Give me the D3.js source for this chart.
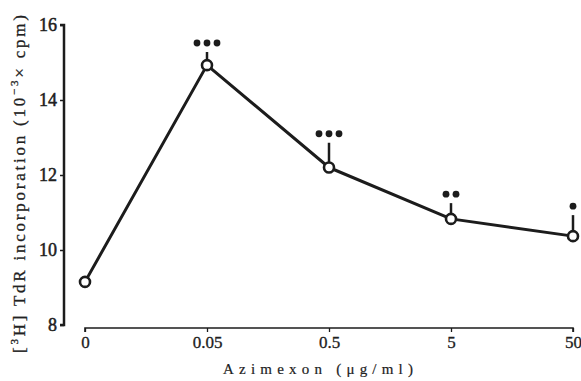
<!DOCTYPE html>
<html>
<head>
<meta charset="utf-8">
<script src="https://cdn.jsdelivr.net/npm/d3@7"></script>
<style>
  body { margin: 0; background: #fff; }
  svg { display: block; }
  text { font-family: "Liberation Serif", "DejaVu Serif", serif; fill: #222; }
</style>
</head>
<body>
<svg id="chart" width="581" height="381"></svg>
<script>
// dose of azimexon (ug/ml), plotted as evenly spaced categories
const doses = ['0', '0.05', '0.5', '5', '50'];
const means = [9.15, 14.93, 12.2, 10.83, 10.37];
const sems = [0.1, 0.35, 0.66, 0.42, 0.56];
const starCounts = [0, 3, 3, 2, 1];
const yTicks = [8, 10, 12, 14, 16];

const svg = d3.select('#chart');
const ink = '#1c1c1c';

const x = d3.scalePoint().domain(doses).range([85, 573]);
const y = d3.scaleLinear().domain([8, 16]).range([325, 25]);

// y axis
const yAxis = svg.append('g').attr('transform', 'translate(64,0)')
    .call(d3.axisLeft(y).tickValues(yTicks).tickSize(4).tickPadding(3).tickFormat(d3.format('d')));
yAxis.select('.domain').attr('stroke', ink).attr('stroke-width', 2.5).attr('d', 'M-4,25H0V325H-4');
yAxis.selectAll('.tick line').attr('stroke', ink).attr('stroke-width', 1.5);
yAxis.selectAll('.tick text').attr('font-size', 18).attr('fill', ink)
    .attr('stroke', ink).attr('stroke-width', 0.5)
    .attr('font-family', '"Liberation Serif", serif');

// x axis
const xAxis = svg.append('g').attr('transform', 'translate(0,328)')
    .call(d3.axisBottom(x).tickSize(4).tickPadding(4));
xAxis.select('.domain').attr('stroke', ink).attr('stroke-width', 1.6).attr('d', 'M85,4V0H573V4');
xAxis.selectAll('.tick line').attr('stroke', ink).attr('stroke-width', 1.3);
xAxis.selectAll('.tick text').attr('font-size', 17).attr('fill', ink)
    .attr('stroke', ink).attr('stroke-width', 0.3)
    .attr('font-family', '"Liberation Serif", serif');

// axis titles
svg.append('text')
    .attr('transform', 'translate(25,184) rotate(-90)')
    .attr('text-anchor', 'middle')
    .attr('font-size', 17)
    .attr('stroke', ink).attr('stroke-width', 0.3)
    .attr('textLength', 338).attr('lengthAdjust', 'spacing')
    .html('[<tspan dy="-7" font-size="11">3</tspan><tspan dy="7">H] TdR incorporation (10</tspan><tspan dy="-7" font-size="11">−3</tspan><tspan dy="7">× cpm)</tspan>');

svg.append('text')
    .attr('x', 318).attr('y', 374)
    .attr('text-anchor', 'middle')
    .attr('font-size', 15)
    .attr('stroke', ink).attr('stroke-width', 0.2)
    .attr('textLength', 190).attr('lengthAdjust', 'spacing')
    .text('Azimexon (μg/ml)');

const pts = doses.map((d, i) => ({ dose: d, mean: means[i], sem: sems[i], stars: starCounts[i] }));

// error bars (upper only)
svg.append('g').selectAll('line').data(pts).enter().append('line')
    .attr('x1', d => x(d.dose)).attr('x2', d => x(d.dose))
    .attr('y1', d => y(d.mean)).attr('y2', d => y(d.mean + d.sem))
    .attr('stroke', ink).attr('stroke-width', 2.5);

// connecting line
const line = d3.line().x(d => x(d.dose)).y(d => y(d.mean));
svg.append('path').datum(pts)
    .attr('d', line).attr('fill', 'none')
    .attr('stroke', ink).attr('stroke-width', 3).attr('stroke-linejoin', 'round');

// open circles
svg.append('g').selectAll('circle').data(pts).enter().append('circle')
    .attr('cx', d => x(d.dose)).attr('cy', d => y(d.mean))
    .attr('r', 5).attr('fill', '#fff')
    .attr('stroke', ink).attr('stroke-width', 2.6);

// significance dots above each bar
const dots = pts.flatMap(p => d3.range(p.stars).map(k => ({ p, k })));
svg.append('g').selectAll('circle').data(dots).enter().append('circle')
    .attr('cx', d => x(d.p.dose) + (d.k - (d.p.stars - 1) / 2) * 10)
    .attr('cy', d => y(d.p.mean + d.p.sem) - 9)
    .attr('r', 3.4).attr('fill', ink);
</script>
</body>
</html>
